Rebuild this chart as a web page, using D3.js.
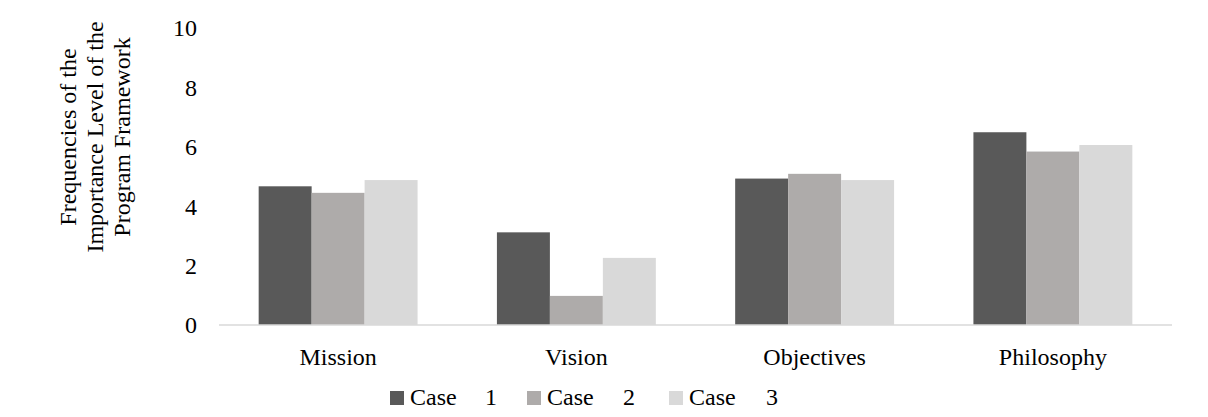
<!DOCTYPE html>
<html>
<head>
<meta charset="utf-8">
<script src="https://cdn.jsdelivr.net/npm/d3@7"></script>
<style>
  html, body { margin: 0; padding: 0; background: #fff; }
  svg { display: block; }
  text { font-family: "Liberation Serif", "Times New Roman", serif; fill: #000; }
</style>
</head>
<body>
<script>
// Chart data
const categories = ["Mission", "Vision", "Objectives", "Philosophy"];
const seriesNames = ["Case 1", "Case 2", "Case 3"];
const case1 = [4.67, 3.12, 4.93, 6.49];
const case2 = [4.45, 0.98, 5.09, 5.84];
const case3 = [4.88, 2.26, 4.88, 6.06];
const yTicks = [0, 2, 4, 6, 8, 10];
const yTitleLines = ["Frequencies of the", "Importance Level of the", "Program Framework"];

const seriesValues = [case1, case2, case3];
const colors = ["#595959", "#aeabaa", "#d9d9d9"];

const W = 1208, H = 417;
const plot = { left: 219, right: 1172, top: 28, bottom: 325 };

const svg = d3.select("body").append("svg")
  .attr("width", W).attr("height", H);

const x0 = d3.scaleBand()
  .domain(categories)
  .range([plot.left, plot.right])
  .paddingInner(0.333)
  .paddingOuter(0.1665);

const x1 = d3.scaleBand()
  .domain(d3.range(seriesNames.length))
  .range([0, x0.bandwidth()]);

const y = d3.scaleLinear().domain([0, 10]).range([plot.bottom, plot.top]);

// Bars
const groups = svg.append("g").selectAll("g")
  .data(categories)
  .join("g")
  .attr("transform", d => `translate(${x0(d)},0)`);

groups.selectAll("rect")
  .data((c, ci) => seriesValues.map((vals, si) => ({ si, v: vals[ci] })))
  .join("rect")
  .attr("x", d => x1(d.si))
  .attr("width", x1.bandwidth())
  .attr("y", d => y(d.v))
  .attr("height", d => y(0) - y(d.v))
  .attr("fill", d => colors[d.si]);

// Baseline
svg.append("line")
  .attr("x1", plot.left).attr("x2", plot.right)
  .attr("y1", y(0)).attr("y2", y(0))
  .attr("stroke", "#d9d9d9").attr("stroke-width", 1.5);

// Y tick labels
const yAxis = d3.axisLeft(y).tickValues(yTicks).tickSize(0).tickPadding(0);
const yg = svg.append("g").attr("transform", `translate(197,0)`).call(yAxis);
yg.select(".domain").remove();
yg.selectAll("text")
  .attr("font-size", 24)
  .attr("font-family", "Liberation Serif, Times New Roman, serif")
  .attr("fill", "#000")
  .attr("dy", "0.33em");

// Category labels
const xAxis = d3.axisBottom(x0).tickSize(0).tickPadding(0);
const xg = svg.append("g").attr("transform", `translate(0,${y(0)})`).call(xAxis);
xg.select(".domain").remove();
xg.selectAll("text")
  .attr("font-size", 24)
  .attr("font-family", "Liberation Serif, Times New Roman, serif")
  .attr("fill", "#000")
  .attr("y", 40)
  .attr("dy", 0);

// Y axis title
const yTitle = svg.append("text")
  .attr("transform", "translate(0,137) rotate(-90)")
  .attr("text-anchor", "middle")
  .attr("font-size", 24);
yTitle.selectAll("tspan")
  .data(yTitleLines)
  .join("tspan")
  .attr("x", 0)
  .attr("y", (d, i) => 76 + i * 27)
  .text(d => d);

// Legend
const legendX = [390, 527, 669];
const legend = svg.append("g");
seriesNames.forEach((name, i) => {
  const parts = name.split(" ");
  const g = legend.append("g").attr("transform", `translate(${legendX[i]},0)`);
  g.append("rect").attr("x", 0).attr("y", 391).attr("width", 14).attr("height", 14)
    .attr("fill", colors[i]);
  g.append("text").attr("x", 20).attr("y", 405).attr("font-size", 24).text(parts[0]);
  g.append("text").attr("x", 95 + i).attr("y", 405).attr("font-size", 24).text(parts[1]);
});
</script>
</body>
</html>
